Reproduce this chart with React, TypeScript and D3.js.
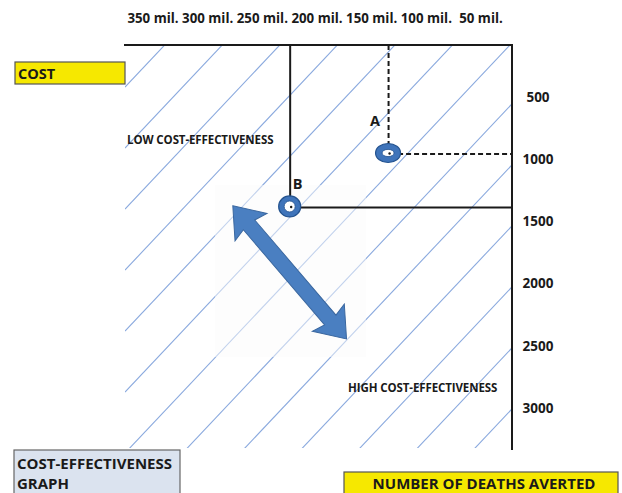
import React from "react";
import * as d3 from "d3";

// ---- data ----
const costTicks = [350, 300, 250, 200, 150, 100, 50]; // million
const deathTicks = [500, 1000, 1500, 2000, 2500, 3000];
const pointNames = ["A", "B"];
const pointCost = [135, 225]; // million
const pointDeaths = [950, 1380];
const pointGuide = ["dashed", "solid"];
const arrowCost = [277, 173];
const arrowDeaths = [1375, 2445];

const W = 622;
const H = 493;
const FONT = "'Open Sans', Lato, sans-serif";
const INK = "#1a1a1a";
const BLUE = "#3f74ba";
const BLUE_DARK = "#24538f";
const HATCH = "#8aa9de";

// frame (layout)
const frameLeft = 124;
const frameRight = 512;
const frameTop = 45;
const frameBottom = 450;

export default function App() {
  const x = d3.scaleLinear().domain([350, 50]).range([153, 481]);
  const y = d3.scaleLinear().domain([500, 3000]).range([97, 408]);

  // hatch lines: slope up-right
  const slope = 1.06;
  const spacing = 61;
  const baseLeft = frameTop + slope * (510 - 125);
  const hatch = d3.range(-8, 9).map((k) => {
    const yl = baseLeft + spacing * k;
    return { x1: 125, y1: yl, x2: 125 + 600, y2: yl - slope * 600 };
  });

  const pts = pointNames.map((n, i) => ({
    name: n,
    cx: x(pointCost[i]),
    cy: y(pointDeaths[i]),
    guide: pointGuide[i],
  }));

  const a0 = [x(arrowCost[0]), y(arrowDeaths[0])];
  const a1 = [x(arrowCost[1]), y(arrowDeaths[1])];
  const L = Math.hypot(a1[0] - a0[0], a1[1] - a0[1]);
  const ang = (Math.atan2(a1[1] - a0[1], a1[0] - a0[0]) * 180) / Math.PI;
  const hl = 25, hw = 21, sw = 7.5, back = 3;
  const arrowPts = [
    [0, 0],
    [hl + back, -hw],
    [hl, -sw],
    [L - hl, -sw],
    [L - hl - back, -hw],
    [L, 0],
    [L - hl - back, hw],
    [L - hl, sw],
    [hl, sw],
    [hl + back, hw],
  ];

  return (
    <svg
      width={W}
      height={H}
      style={{ position: "absolute", left: 0, top: 0, background: "#fff" }}
      fontFamily={FONT}
    >
      <defs>
        <clipPath id="hatchClip">
          <rect x={125} y={frameTop} width={frameRight - 125} height={448 - frameTop} />
        </clipPath>
      </defs>
      <rect x={0} y={0} width={W} height={H} fill="#fff" />

      {/* hatch */}
      <g clipPath="url(#hatchClip)">
        {hatch.map((h, i) => (
          <line key={i} x1={h.x1} y1={h.y1} x2={h.x2} y2={h.y2} stroke={HATCH} strokeWidth={1.1} />
        ))}
      </g>

      {/* faint backdrop behind arrow */}
      <rect x={215} y={185} width={151} height={172} fill="#fcfcfc" opacity={0.5} />

      {/* top axis labels */}
      {costTicks.map((c) => (
        <text key={c} x={x(c)} y={18} dy="0.35em" textAnchor="middle" fontSize={13.3} fontWeight={700} fill={INK}>
          {c} mil.
        </text>
      ))}

      {/* right axis labels */}
      {deathTicks.map((d) => (
        <text key={d} x={538} y={y(d)} dy="0.35em" textAnchor="middle" fontSize={13.5} fontWeight={700} fill={INK}>
          {d}
        </text>
      ))}

      {/* frame */}
      <line x1={frameLeft} y1={frameTop} x2={frameRight + 1} y2={frameTop} stroke={INK} strokeWidth={2} />
      <line x1={frameRight} y1={frameTop} x2={frameRight} y2={frameBottom} stroke={INK} strokeWidth={2} />

      {/* guides */}
      {pts.map((p) => (
        <g key={p.name} stroke={INK} strokeWidth={2} strokeDasharray={p.guide === "dashed" ? "5 3" : undefined}>
          <line x1={p.cx + 0.5} y1={frameTop} x2={p.cx + 0.5} y2={p.cy - 8} />
          <line x1={p.cx + 10} y1={p.cy + 1} x2={frameRight} y2={p.cy + 1} />
        </g>
      ))}

      {/* points */}
      {pts.map((p, i) => {
        const rx = i === 0 ? 12.5 : 11;
        const ry = i === 0 ? 9.5 : 10.5;
        return (
          <g key={p.name}>
            <ellipse cx={p.cx} cy={p.cy} rx={rx} ry={ry} fill={BLUE} stroke={BLUE_DARK} strokeWidth={1.2} />
            <ellipse cx={p.cx} cy={p.cy} rx={i === 0 ? 6 : 5.5} ry={i === 0 ? 3.6 : 5.5} fill="#fff" stroke={BLUE_DARK} strokeWidth={0.8} />
            <circle cx={p.cx + 1.5} cy={p.cy + 0.5} r={1.2} fill={INK} />
            <text
              x={i === 0 ? p.cx - 13 : p.cx + 8}
              y={i === 0 ? p.cy - 32 : p.cy - 23}
              dy="0.35em"
              textAnchor="middle"
              fontSize={14.5}
              fontWeight={700}
              fill={INK}
            >
              {p.name}
            </text>
          </g>
        );
      })}

      {/* double arrow */}
      <g transform={`translate(${a0[0]},${a0[1]}) rotate(${ang})`}>
        <polygon points={arrowPts.map((q) => q.join(",")).join(" ")} fill="#4a7fc1" stroke="#3a679f" strokeWidth={1} />
      </g>

      {/* region labels */}
      <text x={127} y={140} dy="0.35em" fontSize={11.5} fontWeight={700} fill={INK} letterSpacing={-0.1}>
        LOW COST-EFFECTIVENESS
      </text>
      <text x={348} y={388} dy="0.35em" fontSize={11.5} fontWeight={700} fill={INK} letterSpacing={-0.1}>
        HIGH COST-EFFECTIVENESS
      </text>

      {/* COST box */}
      <rect x={15} y={62} width={110} height={22} fill="#f6e800" stroke="#555" strokeWidth={1.2} />
      <text x={18} y={79} fontSize={14.5} fontWeight={700} fill={INK}>
        COST
      </text>

      {/* bottom-left box */}
      <rect x={14} y={450} width={166} height={60} fill="#dbe3ef" stroke="#666" strokeWidth={1.2} />
      <text x={17} y={469} fontSize={15} fontWeight={700} fill={INK}>
        COST-EFFECTIVENESS
      </text>
      <text x={17} y={489} fontSize={15} fontWeight={700} fill={INK}>
        GRAPH
      </text>

      {/* bottom-right box */}
      <rect x={344} y={472} width={274} height={40} fill="#f6e800" stroke="#555" strokeWidth={1.2} />
      <text x={484} y={489} textAnchor="middle" fontSize={15} fontWeight={700} fill={INK}>
        NUMBER OF DEATHS AVERTED
      </text>
    </svg>
  );
}
